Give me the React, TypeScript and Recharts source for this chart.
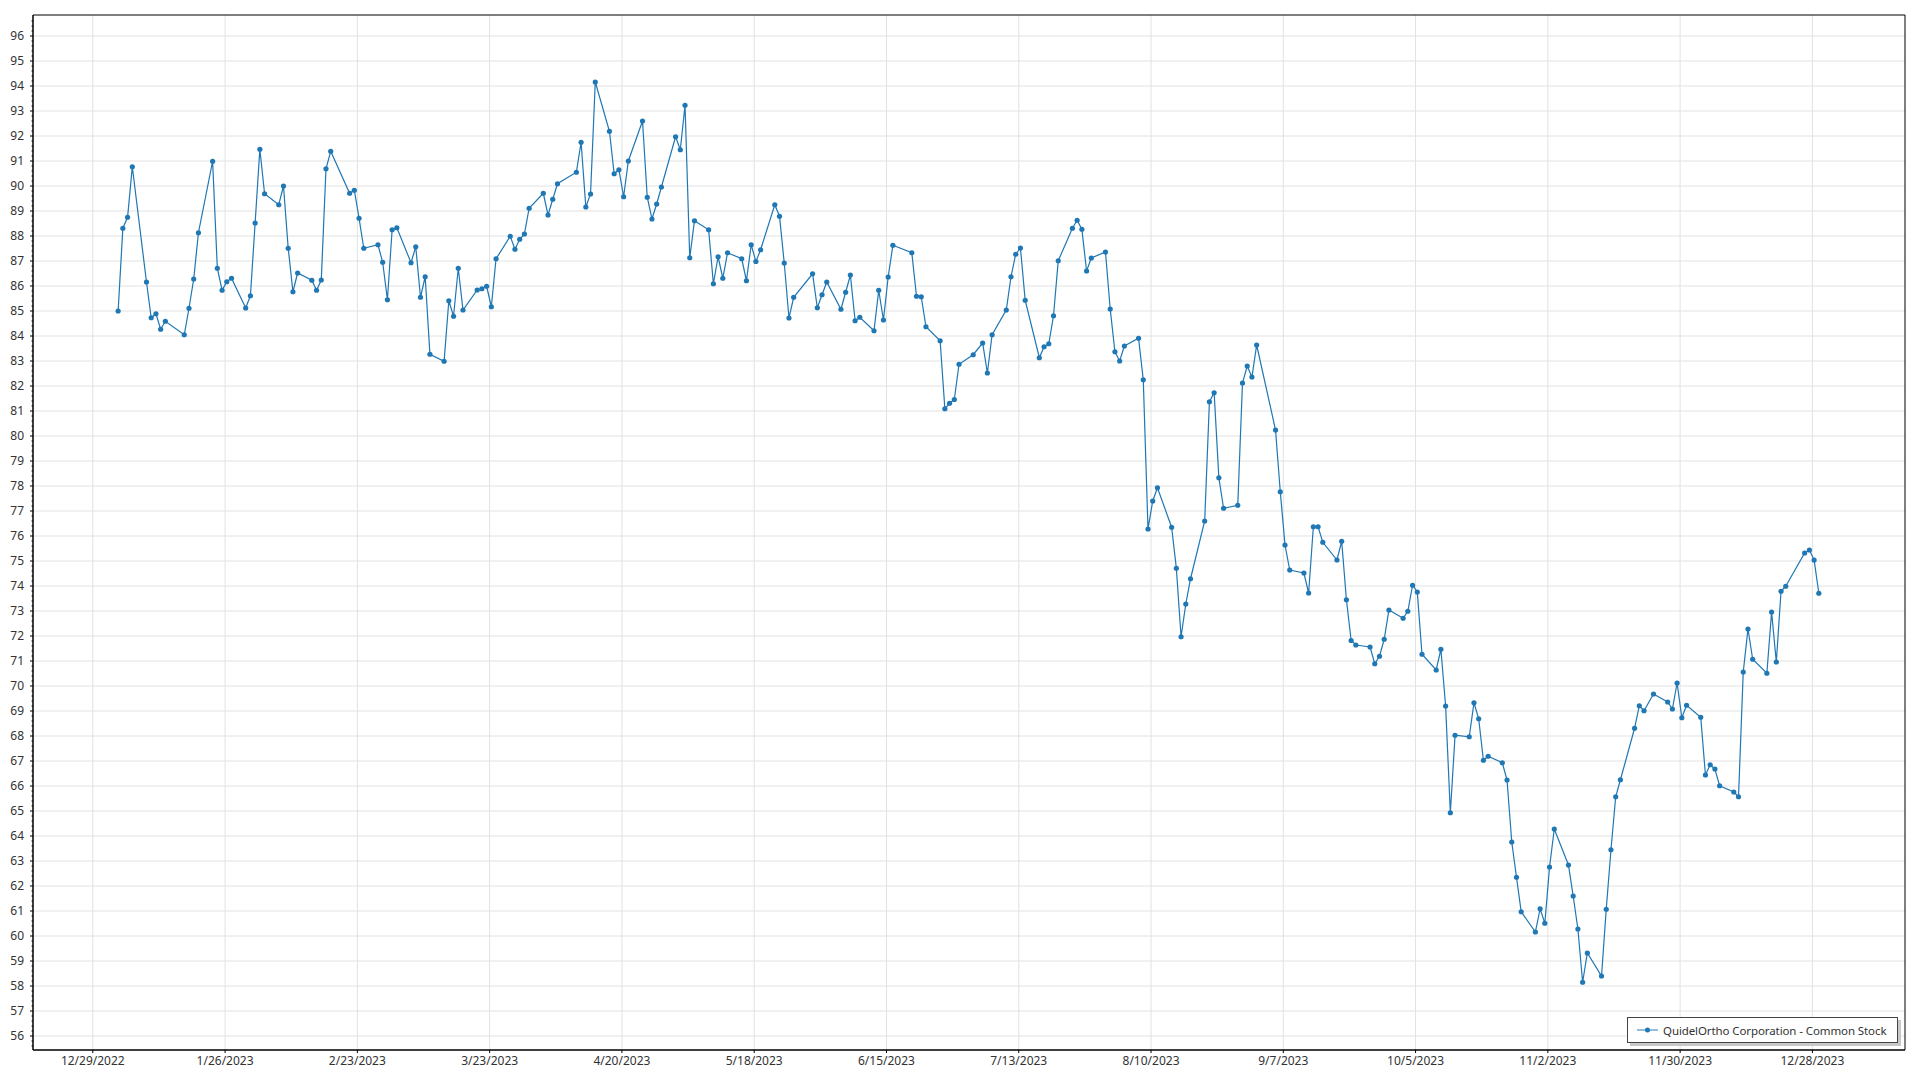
import React from "react";
import { CartesianGrid, Legend, Line, LineChart, ReferenceArea, XAxis, YAxis } from "recharts";

const seriesName = "QuidelOrtho Corporation - Common Stock";

// trading days of 2023 (x categories)
const tradeDates = [
  "2023-01-03", "2023-01-04", "2023-01-05", "2023-01-06", "2023-01-09", "2023-01-10", "2023-01-11", "2023-01-12", "2023-01-13", "2023-01-17",
  "2023-01-18", "2023-01-19", "2023-01-20", "2023-01-23", "2023-01-24", "2023-01-25", "2023-01-26", "2023-01-27", "2023-01-30", "2023-01-31",
  "2023-02-01", "2023-02-02", "2023-02-03", "2023-02-06", "2023-02-07", "2023-02-08", "2023-02-09", "2023-02-10", "2023-02-13", "2023-02-14",
  "2023-02-15", "2023-02-16", "2023-02-17", "2023-02-21", "2023-02-22", "2023-02-23", "2023-02-24", "2023-02-27", "2023-02-28",
  "2023-03-01", "2023-03-02", "2023-03-03", "2023-03-06", "2023-03-07", "2023-03-08", "2023-03-09", "2023-03-10", "2023-03-13", "2023-03-14",
  "2023-03-15", "2023-03-16", "2023-03-17", "2023-03-20", "2023-03-21", "2023-03-22", "2023-03-23", "2023-03-24", "2023-03-27", "2023-03-28",
  "2023-03-29", "2023-03-30", "2023-03-31",
  "2023-04-03", "2023-04-04", "2023-04-05", "2023-04-06", "2023-04-10", "2023-04-11", "2023-04-12", "2023-04-13", "2023-04-14", "2023-04-17",
  "2023-04-18", "2023-04-19", "2023-04-20", "2023-04-21", "2023-04-24", "2023-04-25", "2023-04-26", "2023-04-27", "2023-04-28",
  "2023-05-01", "2023-05-02", "2023-05-03", "2023-05-04", "2023-05-05", "2023-05-08", "2023-05-09", "2023-05-10", "2023-05-11", "2023-05-12",
  "2023-05-15", "2023-05-16", "2023-05-17", "2023-05-18", "2023-05-19", "2023-05-22", "2023-05-23", "2023-05-24", "2023-05-25", "2023-05-26",
  "2023-05-30", "2023-05-31",
  "2023-06-01", "2023-06-02", "2023-06-05", "2023-06-06", "2023-06-07", "2023-06-08", "2023-06-09", "2023-06-12", "2023-06-13", "2023-06-14",
  "2023-06-15", "2023-06-16", "2023-06-20", "2023-06-21", "2023-06-22", "2023-06-23", "2023-06-26", "2023-06-27", "2023-06-28", "2023-06-29",
  "2023-06-30",
  "2023-07-03", "2023-07-05", "2023-07-06", "2023-07-07", "2023-07-10", "2023-07-11", "2023-07-12", "2023-07-13", "2023-07-14", "2023-07-17",
  "2023-07-18", "2023-07-19", "2023-07-20", "2023-07-21", "2023-07-24", "2023-07-25", "2023-07-26", "2023-07-27", "2023-07-28", "2023-07-31",
  "2023-08-01", "2023-08-02", "2023-08-03", "2023-08-04", "2023-08-07", "2023-08-08", "2023-08-09", "2023-08-10", "2023-08-11", "2023-08-14",
  "2023-08-15", "2023-08-16", "2023-08-17", "2023-08-18", "2023-08-21", "2023-08-22", "2023-08-23", "2023-08-24", "2023-08-25", "2023-08-28",
  "2023-08-29", "2023-08-30", "2023-08-31",
  "2023-09-01", "2023-09-05", "2023-09-06", "2023-09-07", "2023-09-08", "2023-09-11", "2023-09-12", "2023-09-13", "2023-09-14", "2023-09-15",
  "2023-09-18", "2023-09-19", "2023-09-20", "2023-09-21", "2023-09-22", "2023-09-25", "2023-09-26", "2023-09-27", "2023-09-28", "2023-09-29",
  "2023-10-02", "2023-10-03", "2023-10-04", "2023-10-05", "2023-10-06", "2023-10-09", "2023-10-10", "2023-10-11", "2023-10-12", "2023-10-13",
  "2023-10-16", "2023-10-17", "2023-10-18", "2023-10-19", "2023-10-20", "2023-10-23", "2023-10-24", "2023-10-25", "2023-10-26", "2023-10-27",
  "2023-10-30", "2023-10-31",
  "2023-11-01", "2023-11-02", "2023-11-03", "2023-11-06", "2023-11-07", "2023-11-08", "2023-11-09", "2023-11-10", "2023-11-13", "2023-11-14",
  "2023-11-15", "2023-11-16", "2023-11-17", "2023-11-20", "2023-11-21", "2023-11-22", "2023-11-24", "2023-11-27", "2023-11-28", "2023-11-29",
  "2023-11-30",
  "2023-12-01", "2023-12-04", "2023-12-05", "2023-12-06", "2023-12-07", "2023-12-08", "2023-12-11", "2023-12-12", "2023-12-13", "2023-12-14",
  "2023-12-15", "2023-12-18", "2023-12-19", "2023-12-20", "2023-12-21", "2023-12-22", "2023-12-26", "2023-12-27", "2023-12-28", "2023-12-29",
];

// closing prices, one per trade date
const closePrices = [
  85.0, 88.31, 88.75, 90.77, 86.16, 84.73, 84.89, 84.27, 84.59, 84.05,
  85.11, 86.28, 88.13, 90.99, 86.71, 85.83, 86.17, 86.31, 85.12, 85.61,
  88.52, 91.47, 89.69, 89.25, 90.0, 87.51, 85.77, 86.52, 86.23, 85.83,
  86.24, 90.69, 91.39, 89.71, 89.83, 88.71, 87.51, 87.65, 86.95,
  85.45, 88.25, 88.33, 86.93, 87.57, 85.55, 86.37, 83.27, 82.99, 85.41,
  84.79, 86.71, 85.04, 85.84, 85.89, 85.99, 85.17, 87.09, 87.99, 87.47,
  87.87, 88.08, 89.11,
  89.71, 88.84, 89.47, 90.09, 90.55, 91.75, 89.16, 89.68, 94.16, 92.19,
  90.49, 90.65, 89.57, 91.0, 92.6, 89.55, 88.68, 89.28, 89.96,
  91.97, 91.45, 93.23, 87.13, 88.61, 88.25, 86.09, 87.17, 86.31, 87.33,
  87.09, 86.21, 87.65, 86.98, 87.45, 89.25, 88.79, 86.92, 84.72, 85.55,
  86.49, 85.13,
  85.65, 86.16, 85.07, 85.75, 86.44, 84.61, 84.75, 84.21, 85.83, 84.64,
  86.36, 87.63, 87.33, 85.59, 85.57, 84.37, 83.81, 81.09, 81.31, 81.46,
  82.87,
  83.25, 83.72, 82.52, 84.05, 85.04, 86.37, 87.27, 87.52, 85.43, 83.13,
  83.57, 83.69, 84.81, 87.01, 88.31, 88.63, 88.27, 86.6, 87.12, 87.36,
  85.08, 83.37, 83.0, 83.6, 83.91, 82.25, 76.28, 77.4, 77.93, 76.35,
  74.71, 71.97, 73.28, 74.29, 76.6, 81.37, 81.73, 78.33, 77.11, 77.23,
  82.12, 82.8, 82.36,
  83.64, 80.24, 77.77, 75.64, 74.64, 74.52, 73.72, 76.37, 76.37, 75.75,
  75.04, 75.79, 73.45, 71.82, 71.64, 71.56, 70.89, 71.19, 71.87, 73.04,
  72.71, 72.99, 74.03, 73.76, 71.27, 70.64, 71.47, 69.2, 64.93, 68.03,
  67.97, 69.33, 68.69, 67.03, 67.19, 66.93, 66.24, 63.76, 62.35, 60.97,
  60.16, 61.09,
  60.51, 62.76, 64.28, 62.84, 61.6, 60.28, 58.15, 59.32, 58.4, 61.07,
  63.45, 65.57, 66.25, 68.31, 69.21, 69.01, 69.68, 69.36, 69.08, 70.12,
  68.73,
  69.23, 68.75, 66.44, 66.85, 66.68, 66.01, 65.76, 65.57, 70.56, 72.28,
  71.07, 70.51, 72.96, 70.96, 73.79, 73.99, 75.32, 75.44, 75.04, 73.71,
];

const xTickDates = [
  "2022-12-29", "2023-01-26", "2023-02-23", "2023-03-23", "2023-04-20", "2023-05-18", "2023-06-15",
  "2023-07-13", "2023-08-10", "2023-09-07", "2023-10-05", "2023-11-02", "2023-11-30", "2023-12-28",
];

const yTicks = [
  56, 57, 58, 59, 60, 61, 62, 63, 64, 65, 66, 67, 68, 69, 70, 71, 72, 73, 74, 75, 76,
  77, 78, 79, 80, 81, 82, 83, 84, 85, 86, 87, 88, 89, 90, 91, 92, 93, 94, 95, 96,
];

const DAY = 86400000;
const FONT = "'Noto Sans', 'Open Sans', sans-serif";
const BLUE = "#1f77b4";
// quotes are stamped a few hours into the day, so points sit just right of midnight
const QUOTE_TIME = 0.36 * DAY;

const toTime = (s: string) => {
  const [y, m, d] = s.split("-").map(Number);
  return Date.UTC(y, m - 1, d);
};
const fmtDate = (t: number) => {
  const d = new Date(t);
  return `${d.getUTCMonth() + 1}/${d.getUTCDate()}/${d.getUTCFullYear()}`;
};

const data = tradeDates.map((d, i) => ({ t: toTime(d) + QUOTE_TIME, price: closePrices[i] }));
const xTicks = xTickDates.map(toTime);
const xDomain = [xTicks[0] - 12.66 * DAY, xTicks[xTicks.length - 1] + 19.6 * DAY];
const yDomain = [55.44, 96.84];

// minor ticks every 0.2 on the value axis
const yMinorTicks: number[] = [];
for (let v = 55.6; v <= 96.8; v += 0.2) yMinorTicks.push(Math.round(v * 10) / 10);

const YTick = (props: any) => {
  const { x, y, payload } = props;
  const axisX = x + 9;
  const major = Number.isInteger(payload.value);
  return (
    <g>
      <line x1={axisX - (major ? 3 : 1.5)} y1={y} x2={axisX} y2={y} stroke="#000" />
      {major && (
        <text x={x} y={y} dy="0.35em" textAnchor="end" fill="#333" fontSize={12} fontFamily={FONT}>
          {payload.value}
        </text>
      )}
    </g>
  );
};

const LegendBox = () => (
  <div
    style={{
      boxSizing: "border-box",
      width: 271,
      height: 26,
      display: "flex",
      alignItems: "center",
      paddingLeft: 9,
      background: "#fff",
      border: "1px solid #444",
      boxShadow: "3px 3px 0 #c8c8c8",
      fontFamily: FONT,
      fontSize: 11.5,
      letterSpacing: -0.1,
      color: "#333",
      whiteSpace: "nowrap",
    }}
  >
    <svg width={21} height={8} style={{ flex: "none" }}>
      <line x1={0} y1={4} x2={21} y2={4} stroke="#6fa6d4" strokeWidth={1.5} />
      <circle cx={10.5} cy={4} r={2.5} fill={BLUE} />
    </svg>
    <span style={{ marginLeft: 5 }}>{seriesName}</span>
  </div>
);

export default function App() {
  return (
    <div style={{ position: "absolute", left: 0, top: 0, width: 1920, height: 1080, background: "#fff" }}>
      <LineChart width={1920} height={1080} data={data} margin={{ top: 15, right: 15, left: 0, bottom: 0 }}>
        <CartesianGrid stroke="#e2e2e2" horizontalValues={yTicks} verticalValues={xTicks} />
        <XAxis
          dataKey="t"
          type="number"
          domain={xDomain}
          ticks={xTicks}
          tickFormatter={fmtDate}
          allowDataOverflow
          height={30}
          tickSize={3}
          tickMargin={3}
          stroke="#000"
          tick={{ fill: "#333", fontSize: 12, fontFamily: FONT }}
        />
        <YAxis
          type="number"
          domain={yDomain}
          ticks={yMinorTicks}
          allowDataOverflow
          width={33}
          tickSize={3}
          tickMargin={6}
          tickLine={false}
          stroke="#000"
          interval={0}
          tick={<YTick />}
        />
        <ReferenceArea
          x1={xDomain[0]}
          x2={xDomain[1]}
          y1={yDomain[0]}
          y2={yDomain[1]}
          fill="none"
          stroke="#000"
          strokeWidth={1}
          ifOverflow="visible"
        />
        <Legend
          layout="horizontal"
          verticalAlign="middle"
          align="center"
          wrapperStyle={{ left: 1627, top: 1017, width: "auto", height: "auto" }}
          content={() => <LegendBox />}
        />
        <Line
          dataKey="price"
          name={seriesName}
          stroke={BLUE}
          strokeWidth={1.2}
          dot={{ r: 2.6, fill: BLUE, stroke: "none" }}
          activeDot={false}
          isAnimationActive={false}
        />
      </LineChart>
    </div>
  );
}
